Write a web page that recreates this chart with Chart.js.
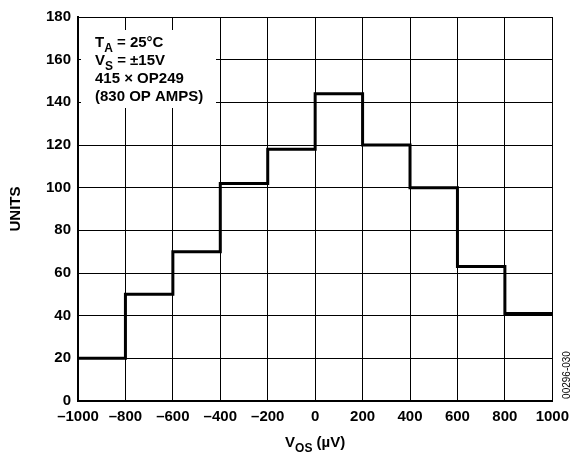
<!DOCTYPE html>
<html>
<head>
<meta charset="utf-8">
<script src="https://cdn.jsdelivr.net/npm/chart.js@4.4.0/dist/chart.umd.min.js"></script>
<style>
  html, body { margin: 0; padding: 0; background: #fff; }
  #wrap { width: 576px; height: 458px; }
</style>
</head>
<body>
<div id="wrap"><canvas id="chart" width="576" height="458"></canvas></div>
<script>
// bin left edges (µV) and counts per bin; last edge closes the final bin
const binEdges = [-1000, -800, -600, -400, -200, 0, 200, 400, 600, 800, 1000];
const binCounts = [20, 50, 70, 102, 118, 144, 120, 100, 63, 41];
const xTicks = [-1000, -800, -600, -400, -200, 0, 200, 400, 600, 800, 1000];
const yTicks = [0, 20, 40, 60, 80, 100, 120, 140, 160, 180];

const FONT = "'Liberation Sans', Arial, sans-serif";

// step points: each bin starts at its left edge; repeat last count at the right edge
const points = binEdges.map((x, i) => ({ x: x, y: binCounts[Math.min(i, binCounts.length - 1)] }));

function fmt(v) {
    return v < 0 ? '\u2013' + Math.abs(v) : String(v);
}

// text with a subscript part, drawn left to right
function subText(ctx, parts, x, y, size) {
    let cx = x;
    parts.forEach(p => {
        const s = p.sub ? size * 0.8 : size;
        ctx.font = 'bold ' + s + 'px ' + FONT;
        ctx.fillText(p.t, cx, p.sub ? y + size * 0.3 : y);
        cx += ctx.measureText(p.t).width;
    });
    return cx - x;
}

function textWidth(ctx, parts, size) {
    let w = 0;
    parts.forEach(p => {
        ctx.font = 'bold ' + (p.sub ? size * 0.8 : size) + 'px ' + FONT;
        w += ctx.measureText(p.t).width;
    });
    return w;
}

const labels = {
    id: 'labels',
    beforeDatasetsDraw(chart) {
        const ctx = chart.ctx;
        ctx.save();
        // white box behind the conditions text
        ctx.fillStyle = '#fff';
        ctx.fillRect(81, 30, 135, 78);
        ctx.fillStyle = '#000';
        ctx.textBaseline = 'alphabetic';
        ctx.textAlign = 'left';
        const size = 15;
        subText(ctx, [{ t: 'T' }, { t: 'A', sub: true }, { t: ' = 25\u00B0C' }], 95, 47, size);
        subText(ctx, [{ t: 'V' }, { t: 'S', sub: true }, { t: ' = \u00B115V' }], 95, 65, size);
        subText(ctx, [{ t: '415 \u00D7 OP249' }], 95, 83, size);
        subText(ctx, [{ t: '(830 OP AMPS)' }], 95, 101, size);
        ctx.restore();
    },
    afterDraw(chart) {
        const ctx = chart.ctx;
        const area = chart.chartArea;
        ctx.save();
        ctx.fillStyle = '#000';
        // x axis title
        const parts = [{ t: 'V' }, { t: 'OS', sub: true }, { t: ' (\u00B5V)' }];
        const w = textWidth(ctx, parts, 15);
        const cx = (area.left + area.right) / 2;
        subText(ctx, parts, cx - w / 2, 447, 15);
        // y axis title
        ctx.translate(16, (area.top + area.bottom) / 2);
        ctx.rotate(-Math.PI / 2);
        ctx.textAlign = 'center';
        ctx.textBaseline = 'middle';
        ctx.font = 'bold 15px ' + FONT;
        ctx.fillText('UNITS', 0, 0);
        ctx.restore();
        // figure code at right edge
        ctx.save();
        ctx.translate(567, 375);
        ctx.rotate(-Math.PI / 2);
        ctx.textAlign = 'center';
        ctx.textBaseline = 'middle';
        ctx.font = '10px ' + FONT;
        ctx.fillStyle = '#000';
        ctx.fillText('00296-030', 0, 0);
        ctx.restore();
    }
};

new Chart(document.getElementById('chart'), {
    type: 'line',
    data: {
        datasets: [{
            data: points,
            stepped: 'before',
            borderColor: '#000',
            borderWidth: 3,
            pointRadius: 0,
            fill: false,
            clip: false
        }]
    },
    options: {
        responsive: false,
        animation: false,
        layout: { padding: { top: 17, right: 19, left: 0, bottom: 0 } },
        plugins: {
            legend: { display: false },
            tooltip: { enabled: false }
        },
        scales: {
            x: {
                type: 'linear',
                min: -1000,
                max: 1000,
                afterBuildTicks: s => { s.ticks = xTicks.map(v => ({ value: v })); },
                afterFit: s => { s.height = 57; },
                ticks: {
                    color: '#000',
                    padding: 7,
                    maxRotation: 0,
                    autoSkip: false,
                    font: { family: FONT, size: 15, weight: 'bold' },
                    callback: v => fmt(v)
                },
                grid: { color: '#000', lineWidth: 1, drawTicks: false },
                border: { color: '#000', width: 2 }
            },
            y: {
                min: 0,
                max: 180,
                afterBuildTicks: s => { s.ticks = yTicks.map(v => ({ value: v })); },
                afterFit: s => { s.width = 78; },
                ticks: {
                    color: '#000',
                    padding: 7,
                    autoSkip: false,
                    font: { family: FONT, size: 15, weight: 'bold' }
                },
                grid: { color: '#000', lineWidth: 1, drawTicks: false },
                border: { color: '#000', width: 2 }
            }
        }
    },
    plugins: [labels]
});
</script>
</body>
</html>
